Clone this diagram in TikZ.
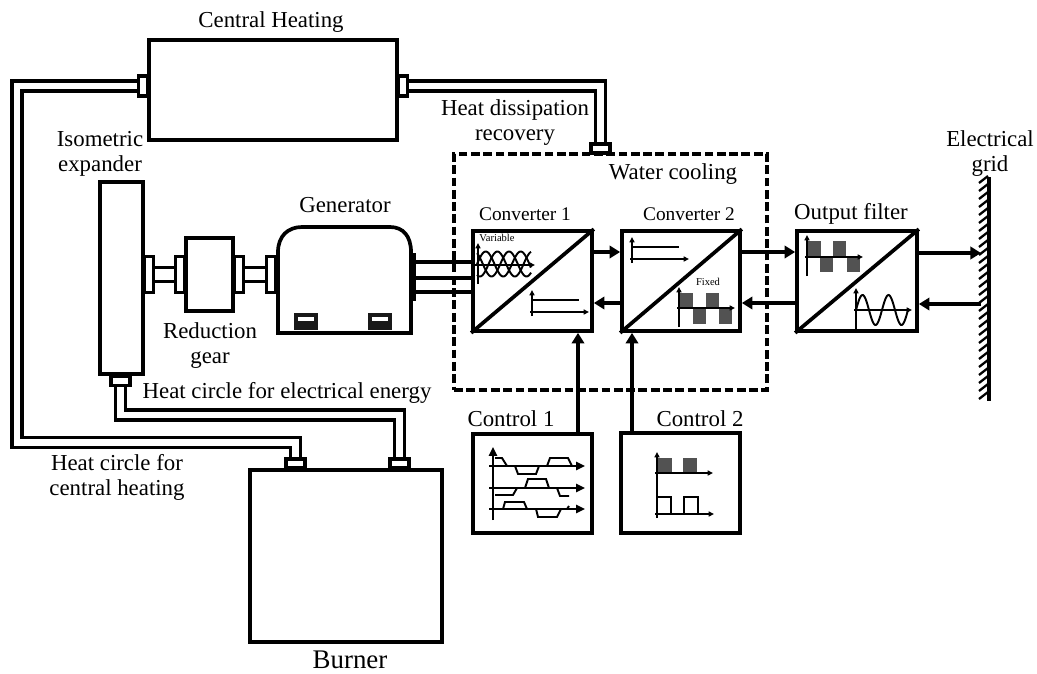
\documentclass[tikz,border=0pt]{standalone}
\usepackage{fontspec}
\setmainfont{Liberation Serif}
\usetikzlibrary{arrows.meta, positioning, calc}
\newcommand{\pxu}{0.02cm}
\tikzset{
  blockbox/.style={draw, rectangle, fill=white, line width=2.1pt, inner sep=0pt},
  flange/.style={draw, rectangle, fill=white, line width=2pt, inner sep=0pt},
  flangev/.style={flange, minimum width=9*\pxu, minimum height=20*\pxu},
  flangeh/.style={flange, minimum width=19*\pxu, minimum height=9*\pxu},
  shaftv/.style={flange, minimum width=9*\pxu, minimum height=36*\pxu},
  pipe/.style={draw, line width=2pt, double=white, double distance=3.7pt},
  shaft/.style={draw, line width=2pt, double=white, double distance=5.8pt},
  slotbox/.style={rectangle, fill=black!90, inner sep=0pt, minimum width=24*\pxu, minimum height=17*\pxu},
  flow/.style={line width=2.1pt, -{Triangle[length=6pt,width=7pt]}},
  wire/.style={line width=2pt},
  lbl/.style={font=\fontsize{13}{14.2}\selectfont, align=center, inner sep=0pt},
  lblsmall/.style={font=\fontsize{11}{12}\selectfont, inner sep=0pt},
  lbltiny/.style={font=\fontsize{6}{7}\selectfont, inner sep=0pt},
  axisthin/.style={line width=0.8pt, -{Triangle[length=3pt,width=2.8pt]}},
  axisbold/.style={line width=1.2pt, -{Triangle[length=5pt,width=4.5pt]}},
  wave/.style={line width=1.1pt},
  pwmbar/.style={fill=black!68, draw=none}
}
\begin{document}
\begin{tikzpicture}[x=0.02cm, y=-0.02cm]
  \useasboundingbox (0,0) rectangle (1037,673);

  \node[blockbox, minimum width=248*\pxu, minimum height=100*\pxu] (heating) at (273,90) {};
  \node[blockbox, minimum width=192*\pxu, minimum height=172*\pxu] (burner) at (346,556) {};
  \node[blockbox, minimum width=43*\pxu, minimum height=192*\pxu] (expander) at (121.5,278) {};
  \node[blockbox, minimum width=47*\pxu, minimum height=73*\pxu] (gear) at (209.5,274.5) {};
  \node[blockbox, minimum width=119*\pxu, minimum height=100*\pxu] (conva) at (532.5,281) {};
  \node[blockbox, minimum width=118*\pxu, minimum height=100*\pxu] (convb) at (681,281) {};
  \node[blockbox, minimum width=120*\pxu, minimum height=100*\pxu] (filter) at (857,281) {};
  \node[blockbox, minimum width=119*\pxu, minimum height=99*\pxu] (ctrla) at (532.5,483.5) {};
  \node[blockbox, minimum width=119*\pxu, minimum height=100*\pxu] (ctrlb) at (680.5,483) {};
  \node[draw, rectangle, line width=2.1pt, dash pattern=on 5pt off 2pt, minimum width=313*\pxu, minimum height=236*\pxu] (cooling) at (610.5,272) {};

  \draw[blockbox] (278,333) -- (278,252) .. controls (278,236) and (288,227) .. (302,227) -- (390,227) .. controls (403,227) and (411,236) .. (411,252) -- (411,333) -- cycle;
  \node[draw, rectangle, fill=black, line width=0pt, inner sep=0pt, minimum width=5*\pxu, minimum height=47*\pxu] (genout) at (413,276.5) {};
  \node[slotbox] (slota) at (306,321.5) {};
  \node[slotbox] (slotb) at (380,321.5) {};
  \foreach \slot in {slota,slotb}
    \fill[white] ($(\slot.center)+(-8,-5)$) rectangle ++(16,4);

  \node[flangev] (heatl) at (143,86) {};
  \node[flangev] (heatr) at (403,86) {};
  \node[flangeh] (coolin) at (600.5,148.5) {};
  \node[flangeh] (expout) at (120.5,381) {};
  \node[flangeh] (burna) at (295.5,463.5) {};
  \node[flangeh] (burnb) at (399.5,463.5) {};
  \node[shaftv] (shafta) at (149,274.5) {};
  \node[shaftv] (shaftb) at (180,274.5) {};
  \node[shaftv] (shaftc) at (239,274.5) {};
  \node[shaftv] (shaftd) at (271,274.5) {};

  \coordinate (bendheat) at (17,442.5);
  \coordinate (bendexp) at (120.5,415);
  \coordinate (gridup) at (981,253);
  \coordinate (griddown) at (981,304);

  \draw[pipe] (heatl.west) -| (bendheat) -| (burna.north);
  \draw[pipe] (expout.south) |- (bendexp) -| (burnb.north);
  \draw[pipe] (heatr.east) -| (coolin.north);
  \draw[shaft] (shafta.east) -- (shaftb.west);
  \draw[shaft] (shaftc.east) -- (shaftd.west);

  \foreach \da/\db in {-14.5/-19,1.5/-3,15.5/11}
    \draw[wire] ($(genout.east)+(0,\da)$) -- ($(conva.west)+(0,\db)$);

  \draw[line width=2.1pt] (conva.south west) -- (conva.north east);
  \draw[line width=2.1pt] (convb.south west) -- (convb.north east);
  \draw[line width=2.1pt] (filter.south west) -- (filter.north east);

  \draw[flow] ($(conva.east)+(0,-29)$) -- ($(convb.west)+(0,-29)$);
  \draw[flow] ($(convb.west)+(0,22)$) -- ($(conva.east)+(0,22)$);
  \draw[flow] ($(convb.east)+(0,-29)$) -- ($(filter.west)+(0,-29)$);
  \draw[flow] ($(filter.west)+(0,22)$) -- ($(convb.east)+(0,22)$);
  \draw[flow] ($(filter.east)+(0,-28)$) -- (gridup);
  \draw[flow] (griddown) -- ($(filter.east)+(0,23)$);
  \draw[flow] ($(ctrla.north)+(45.5,0)$) -- ($(conva.south)+(45.5,0)$);
  \draw[flow] ($(ctrlb.north)+(-48.5,0)$) -- ($(convb.south)+(-49,0)$);

  \draw[line width=2.1pt] (989,177) -- (989,401);
  \foreach \y in {183,191,...,400}
    \draw[line width=1.3pt] (979,\y) -- (988,\y-7);

  \draw[axisthin] (478,284) -- (478,243);
  \draw[axisthin] (475,265) -- (535,265);
  \foreach \ph in {0,120,240}
    \draw[wave] plot[domain=477:531, samples=70, smooth] (\x,{264-12.5*sin(10.3*(\x-477)+\ph)});
  \node[lbltiny] (varlbl) at (497,238) {Variable};

  \draw[axisthin] (532,316) -- (532,290);
  \draw[axisthin] (530,312) -- (589,312);
  \draw[wave] (532,300) -- (579,300);

  \draw[axisthin] (632,263) -- (632,237);
  \draw[axisthin] (630,259) -- (689,259);
  \draw[wave] (632,247) -- (679,247);

  \foreach \x/\ya/\yb in {680/293/308, 693/308/324, 706/293/308, 719/308/324}
    \fill[pwmbar] (\x,\ya) rectangle (\x+13,\yb);
  \draw[axisthin] (679,327) -- (679,287);
  \draw[axisthin] (677,308) -- (735,308);
  \node[lbltiny] (fixlbl) at (708,282) {Fixed};

  \foreach \x/\ya/\yb in {808/241/257, 820/257/272, 833/241/257, 847/257/272}
    \fill[pwmbar] (\x,\ya) rectangle (\x+13,\yb);
  \draw[axisthin] (807,276) -- (807,235);
  \draw[axisthin] (805,257) -- (863,257);

  \draw[axisthin] (856,329) -- (856,288);
  \draw[axisthin] (854,310) -- (912,310);
  \draw[wave] plot[domain=856:908, samples=60, smooth] (\x,{310-15*sin(13.85*(\x-856))});

  \draw[axisbold] (493,520) -- (493,447);
  \foreach \y in {466,488,509}
    \draw[axisbold] (489,\y) -- (585,\y);
  \draw[wave] (495,458) -- (502,458) -- (507,466) -- (515,466) -- (518,474) -- (536,474) -- (539,466) -- (547,466) -- (550,458) -- (568,458) -- (572,466);
  \draw[wave] (495,495) -- (513,495) -- (517,488) -- (525,488) -- (528,479) -- (546,479) -- (549,488) -- (557,488) -- (560,496) -- (569,496);
  \draw[wave] (503,509) -- (505,502) -- (524,502) -- (527,509) -- (536,509) -- (538,517) -- (557,517) -- (561,509) -- (567,509) -- (569,506);

  \foreach \x in {658,683}
    \fill[pwmbar] (\x,458) rectangle (\x+13.5,473);
  \draw[axisthin] (657,518) -- (657,452);
  \draw[axisthin] (655,473) -- (713,473);
  \draw[axisthin] (655,514) -- (714,514);
  \draw[wave] (658,497) -- (671,497) -- (671,514);
  \draw[wave] (684,514) -- (684,497) -- (698,497) -- (698,514);

  \node[lbl] (heatinglbl) at (271,22) {Central Heating};
  \node[lbl] (recoverylbl) at (515,123) {Heat dissipation\\recovery};
  \node[lbl] (coolinglbl) at (673,174) {Water cooling};
  \node[lbl] (expanderlbl) at (100,154) {Isometric\\expander};
  \node[lbl] (generatorlbl) at (345,205) {Generator};
  \node[lbl] (gearlbl) at (210,346) {Reduction\\gear};
  \node[lblsmall] (convalbl) at (525,214) {Converter 1};
  \node[lblsmall] (convblbl) at (689,214) {Converter 2};
  \node[lbl] (filterlbl) at (851,214) {Output filter};
  \node[lbl] (gridlbl) at (990,154) {Electrical\\grid};
  \node[lbl] (elcirclelbl) at (287,393) {Heat circle for electrical energy};
  \node[lbl] (htcirclelbl) at (117,477) {Heat circle for\\central heating};
  \node[lbl] (ctrlalbl) at (511,419) {Control 1};
  \node[lbl] (ctrlblbl) at (700,419) {Control 2};
  \node[lbl, font=\fontsize{15.3}{17}\selectfont] (burnerlbl) at (350,660) {Burner};
\end{tikzpicture}
\end{document}
